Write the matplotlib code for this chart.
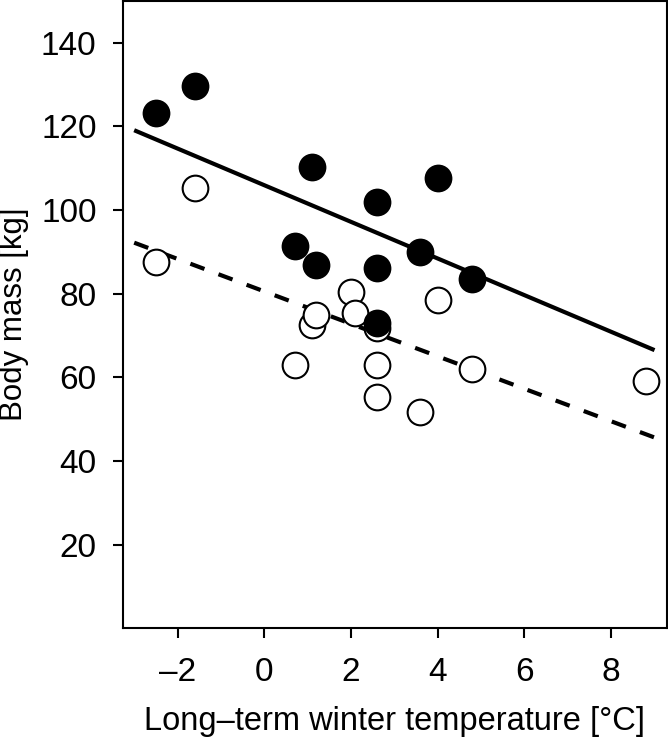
import matplotlib
matplotlib.use("Agg")
import matplotlib.pyplot as plt
from matplotlib.ticker import FuncFormatter

# data

# filled points (black)
filled_temp = [-2.5, -1.6, 0.7, 1.1, 1.2, 2.6, 2.6, 2.6, 3.6, 4.0, 4.8]
filled_mass = [123.2, 129.7, 91.3, 110.2, 86.8, 102.0, 86.1, 72.9, 90.0, 107.6, 83.4]

# open points
open_temp = [-2.5, -1.6, 0.7, 1.1, 1.2, 2.0, 2.1, 2.6, 2.6, 2.6, 3.6, 4.0, 4.8, 8.8]
open_mass = [87.5, 105.3, 63.0, 72.5, 75.0, 80.3, 75.5, 71.8, 63.0, 55.2, 51.8, 78.4, 62.0, 59.1]

# regression lines (end points)
line_temp = [-3.0, 9.0]
solid_mass = [119.1, 66.5]
dashed_mass = [92.2, 45.6]

xticks = [-2, 0, 2, 4, 6, 8]
yticks = [20, 40, 60, 80, 100, 120, 140]

plt.rcParams['font.family'] = ['Liberation Sans', 'DejaVu Sans']

fig = plt.figure(figsize=(6.68, 7.39), dpi=100)
ax = fig.add_axes([0.184, 0.150, 0.814, 0.8486])

ax.plot(line_temp, solid_mass, color="black", lw=3, solid_capstyle="butt", zorder=2)
ax.plot(line_temp, dashed_mass, color="black", lw=3, dashes=(3.6, 3.6), zorder=2)

ax.plot(open_temp, open_mass, 'o', ms=18.5, mfc="white", mec="black", mew=1.5, zorder=3)
ax.plot(filled_temp, filled_mass, 'o', ms=20, mfc="black", mec="black", mew=0, zorder=4)

ax.set_xlim(-3.26, 9.28)
ax.set_ylim(0, 150)
ax.set_xticks(xticks)
ax.set_yticks(yticks)
fmt = FuncFormatter(lambda v, p: ("%d" % v).replace("-", "\u2013"))
ax.xaxis.set_major_formatter(fmt)
ax.yaxis.set_major_formatter(fmt)

for s in ax.spines.values():
    s.set_linewidth(1.5)
ax.tick_params(direction="out", length=7, width=1.5, labelsize=24)
ax.tick_params(axis="x", pad=14)
ax.tick_params(axis="y", pad=12)

ax.set_xlabel("Long\u2013term winter temperature [°C]", fontsize=23.5, labelpad=13)
ax.set_ylabel("Body mass [kg]", fontsize=22.5)
ax.yaxis.set_label_coords(-0.172, 0.5)

fig.savefig("out.png", dpi=100)
